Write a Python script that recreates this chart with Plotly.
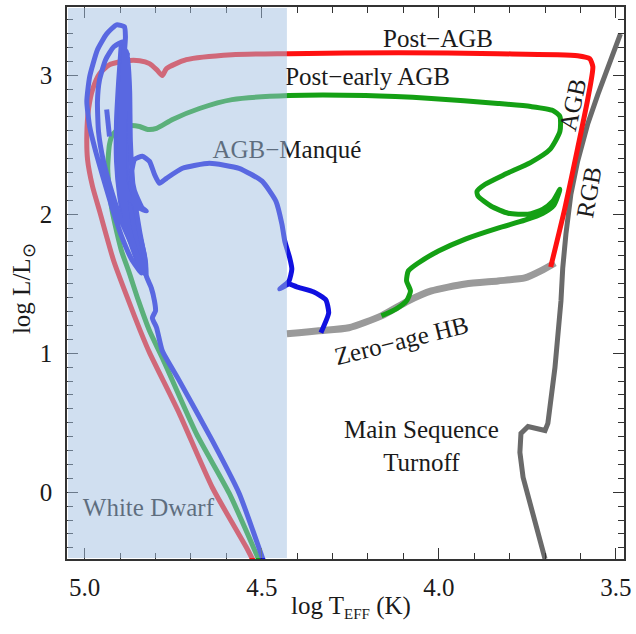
import plotly.graph_objects as go

FONT = "Liberation Serif"

# ---------------- data (log Teff, log L/Lsun) ----------------
rgb_logT = [3.700, 3.740, 3.762, 3.771, 3.768, 3.748, 3.700, 3.692, 3.684, 3.672,
            3.655, 3.650, 3.641, 3.627, 3.608, 3.580, 3.551, 3.515, 3.487]
rgb_logL = [-0.480, -0.107, 0.107, 0.287, 0.423, 0.473, 0.444, 0.495, 0.660, 0.896,
            1.376, 1.613, 1.857, 2.143, 2.380, 2.645, 2.860, 3.097, 3.297]

zahb_logT = [4.429, 4.395, 4.339, 4.254, 4.162, 4.086, 4.021, 3.925, 3.833, 3.757, 3.712, 3.672]
zahb_logL = [1.140, 1.147, 1.161, 1.183, 1.269, 1.377, 1.448, 1.498, 1.520, 1.541, 1.592, 1.649]

post_agb_logT = [3.684, 3.644, 3.608, 3.579, 3.565, 3.574, 3.608, 3.833, 4.114, 4.423,
                 4.584, 4.713, 4.769, 4.781, 4.797, 4.817, 4.845, 4.882, 4.930, 4.958,
                 4.977, 4.989, 4.994, 4.992, 4.978, 4.958, 4.918, 4.876, 4.843, 4.817,
                 4.733, 4.640, 4.544, 4.525]
post_agb_logL = [1.620, 2.043, 2.473, 2.832, 3.061, 3.118, 3.140, 3.154, 3.161, 3.154,
                 3.147, 3.111, 3.047, 2.997, 3.040, 3.083, 3.104, 3.104, 3.075, 3.011,
                 2.903, 2.760, 2.574, 2.394, 2.201, 2.022, 1.663, 1.376, 1.161, 1.004,
                 0.567, 0.036, -0.394, -0.487]

post_eagb_logT = [4.162, 4.120, 4.091, 4.080, 4.091, 4.086, 4.058, 4.001, 3.925, 3.833,
                  3.757, 3.706, 3.675, 3.658, 3.678, 3.706, 3.748, 3.804, 3.852, 3.889,
                  3.892, 3.869, 3.813, 3.740, 3.686, 3.658, 3.658, 3.678, 3.740, 3.833,
                  4.021, 4.207, 4.423, 4.584, 4.676, 4.752, 4.797, 4.822, 4.845, 4.873,
                  4.901, 4.921, 4.930, 4.935, 4.930, 4.924, 4.910, 4.896, 4.876, 4.848,
                  4.817, 4.781, 4.685, 4.592, 4.508]
post_eagb_logL = [1.269, 1.319, 1.377, 1.448, 1.520, 1.592, 1.649, 1.735, 1.821, 1.900,
                  1.957, 2.007, 2.065, 2.179, 2.093, 2.036, 2.000, 2.007, 2.057, 2.129,
                  2.165, 2.215, 2.287, 2.373, 2.466, 2.595, 2.703, 2.746, 2.774, 2.796,
                  2.832, 2.853, 2.853, 2.824, 2.760, 2.681, 2.617, 2.609, 2.631, 2.638,
                  2.617, 2.574, 2.502, 2.330, 2.165, 2.043, 1.878, 1.735, 1.592, 1.376,
                  1.161, 0.968, 0.423, -0.007, -0.487]

manque_logT = [4.333, 4.311, 4.319, 4.353, 4.401, 4.423, 4.449, 4.423, 4.415, 4.421,
               4.435, 4.443, 4.460, 4.499, 4.564, 4.648, 4.724, 4.769, 4.789, 4.803,
               4.817, 4.837, 4.859, 4.868, 4.859, 4.837, 4.826, 4.845, 4.873, 4.888,
               4.899, 4.896, 4.890, 4.885, 4.888, 4.910, 4.938, 4.964, 4.986, 4.994,
               4.986, 4.969, 4.949, 4.924, 4.896, 4.868, 4.840, 4.857, 4.879, 4.896,
               4.902, 4.899, 4.893, 4.890, 4.918, 4.941, 4.958, 4.964, 4.961, 4.947,
               4.924, 4.896, 4.865, 4.831, 4.851, 4.873, 4.885, 4.890, 4.888, 4.882,
               4.879, 4.873, 4.871, 4.862, 4.845, 4.828, 4.826, 4.812, 4.803, 4.800,
               4.809, 4.797, 4.781, 4.733, 4.640, 4.564, 4.496,
               None, 4.938, 4.930]
manque_logL = [1.147, 1.290, 1.384, 1.441, 1.477, 1.498, 1.462, 1.520, 1.606, 1.685,
               1.806, 1.928, 2.093, 2.237, 2.330, 2.366, 2.330, 2.258, 2.222, 2.287,
               2.380, 2.416, 2.394, 2.287, 2.165, 2.043, 2.022, 2.043, 2.115, 2.237,
               2.523, 2.810, 3.097, 3.276, 3.348, 3.362, 3.297, 3.183, 2.989, 2.810,
               2.631, 2.452, 2.273, 2.057, 1.842, 1.678, 1.577, 1.735, 1.914, 2.129,
               2.380, 2.667, 2.953, 3.240, 3.204, 3.111, 2.968, 2.810, 2.595, 2.380,
               2.165, 1.950, 1.771, 1.606, 1.699, 1.878, 2.093, 2.380, 2.667, 2.953,
               3.168, 2.882, 2.523, 2.165, 1.878, 1.649, 1.556, 1.470, 1.376, 1.305,
               1.254, 1.183, 1.018, 0.803, 0.373, -0.007, -0.487,
               None, 2.753, 2.559]

# dense overlapping blue loops (thermal-pulse band) outline
loop_band_logT = [4.899, 4.907, 4.913, 4.913, 4.904, 4.888, 4.865, 4.845, 4.826,
                  4.828, 4.845, 4.865, 4.876, 4.879, 4.879, 4.882, 4.888]
loop_band_logL = [3.240, 2.953, 2.667, 2.380, 2.129, 1.914, 1.735, 1.606, 1.556,
                  1.699, 1.878, 2.093, 2.308, 2.595, 2.882, 3.133, 3.254]

shade_edge_logT = 4.429

x_ticks = [5.0, 4.5, 4.0, 3.5]
x_ticktext = ["5.0", "4.5", "4.0", "3.5"]
y_ticks = [0, 1, 2, 3]
y_ticktext = ["0", "1", "2", "3"]

# label texts and their anchor points (data units)
shaded_labels = ["Post\u2212early AGB", "AGB\u2212Manqué", "White Dwarf"]
shaded_label_T = [4.201, 4.429, 4.820]
shaded_label_L = [2.975, 2.452, -0.129]

FS = 25

# ---------------- figure ----------------
fig = go.Figure()

fig.add_trace(go.Scatter(x=rgb_logT, y=rgb_logL, mode="lines",
                         line=dict(color="#6a6a6a", width=5), hoverinfo="skip"))
fig.add_trace(go.Scatter(x=zahb_logT, y=zahb_logL, mode="lines",
                         line=dict(color="#9a9a9a", width=7, shape="spline", smoothing=0.6),
                         hoverinfo="skip"))
fig.add_trace(go.Scatter(x=post_agb_logT, y=post_agb_logL, mode="lines",
                         line=dict(color="#ff1010", width=5, shape="spline", smoothing=0.6),
                         hoverinfo="skip"))
fig.add_trace(go.Scatter(x=post_eagb_logT, y=post_eagb_logL, mode="lines",
                         line=dict(color="#14a014", width=5, shape="spline", smoothing=0.6),
                         hoverinfo="skip"))
fig.add_trace(go.Scatter(x=loop_band_logT, y=loop_band_logL, mode="lines", fill="toself",
                         fillcolor="#1010e0", line=dict(color="#1010e0", width=3,
                                                         shape="spline", smoothing=0.6),
                         hoverinfo="skip"))
fig.add_trace(go.Scatter(x=manque_logT, y=manque_logL, mode="lines", connectgaps=False,
                         line=dict(color="#1010e0", width=5, shape="spline", smoothing=0.5),
                         hoverinfo="skip"))

fig.add_trace(go.Scatter(x=shaded_label_T, y=shaded_label_L, mode="text",
                         text=shaded_labels, textposition="middle center",
                         textfont=dict(family=FONT, size=FS, color="#1a1a1a"),
                         hoverinfo="skip"))

fig.add_shape(type="rect", xref="x", yref="paper", x0=5.047, x1=shade_edge_logT,
              y0=0.002, y1=0.998, layer="above", line=dict(width=0),
              fillcolor="rgba(161,191,225,0.5)")

ann_font = dict(family=FONT, size=FS, color="#1a1a1a")
fig.add_annotation(x=4.001, y=3.262, text="Post\u2212AGB", showarrow=False, font=ann_font)
fig.add_annotation(x=3.622, y=2.789, text="AGB", showarrow=False, font=ann_font, textangle=-78)
fig.add_annotation(x=3.577, y=2.158, text="RGB", showarrow=False, font=ann_font, textangle=-80)
fig.add_annotation(x=4.105, y=1.090, text="Zero\u2212age HB", showarrow=False, font=ann_font,
                   textangle=-14)
fig.add_annotation(x=4.050, y=0.33, text="Main Sequence<br>Turnoff", showarrow=False,
                   font=ann_font)

# axis titles
fig.add_annotation(xref="paper", yref="paper", x=-0.078, y=0.49, xanchor="center",
                   yanchor="middle", textangle=-90, showarrow=False,
                   text="log L/L<sub>\u2299</sub>", font=dict(family=FONT, size=FS, color="#1a1a1a"))
fig.add_annotation(xref="paper", yref="paper", x=0.51, y=-0.087, xanchor="center",
                   yanchor="middle", showarrow=False,
                   text="log T<sub><span style='font-size:15px'>EFF</span></sub> (K)",
                   font=dict(family=FONT, size=FS, color="#1a1a1a"))

axis_common = dict(showline=True, linewidth=1.5, linecolor="#333333", mirror="allticks",
                   ticks="inside", ticklen=11, tickwidth=1.2, tickcolor="#333333",
                   showgrid=False, zeroline=False,
                   tickfont=dict(family=FONT, size=FS, color="#1a1a1a"))

fig.update_xaxes(range=[5.05, 3.477], tickmode="array", tickvals=x_ticks, ticktext=x_ticktext,
                 minor=dict(tickmode="linear", tick0=3.5, dtick=0.1, ticks="inside",
                            ticklen=6, tickwidth=1, tickcolor="#333333"),
                 ticklabelstandoff=5, **axis_common)
fig.update_yaxes(range=[-0.48, 3.49], tickmode="array", tickvals=y_ticks, ticktext=y_ticktext,
                 minor=dict(tickmode="linear", tick0=0, dtick=0.1, ticks="inside",
                            ticklen=6, tickwidth=1, tickcolor="#333333"),
                 ticklabelstandoff=8, **axis_common)

fig.update_layout(width=636, height=634, margin=dict(l=67, r=11, t=5, b=75),
                  paper_bgcolor="white", plot_bgcolor="white", showlegend=False,
                  font=dict(family=FONT))

fig.write_html("out.html")
